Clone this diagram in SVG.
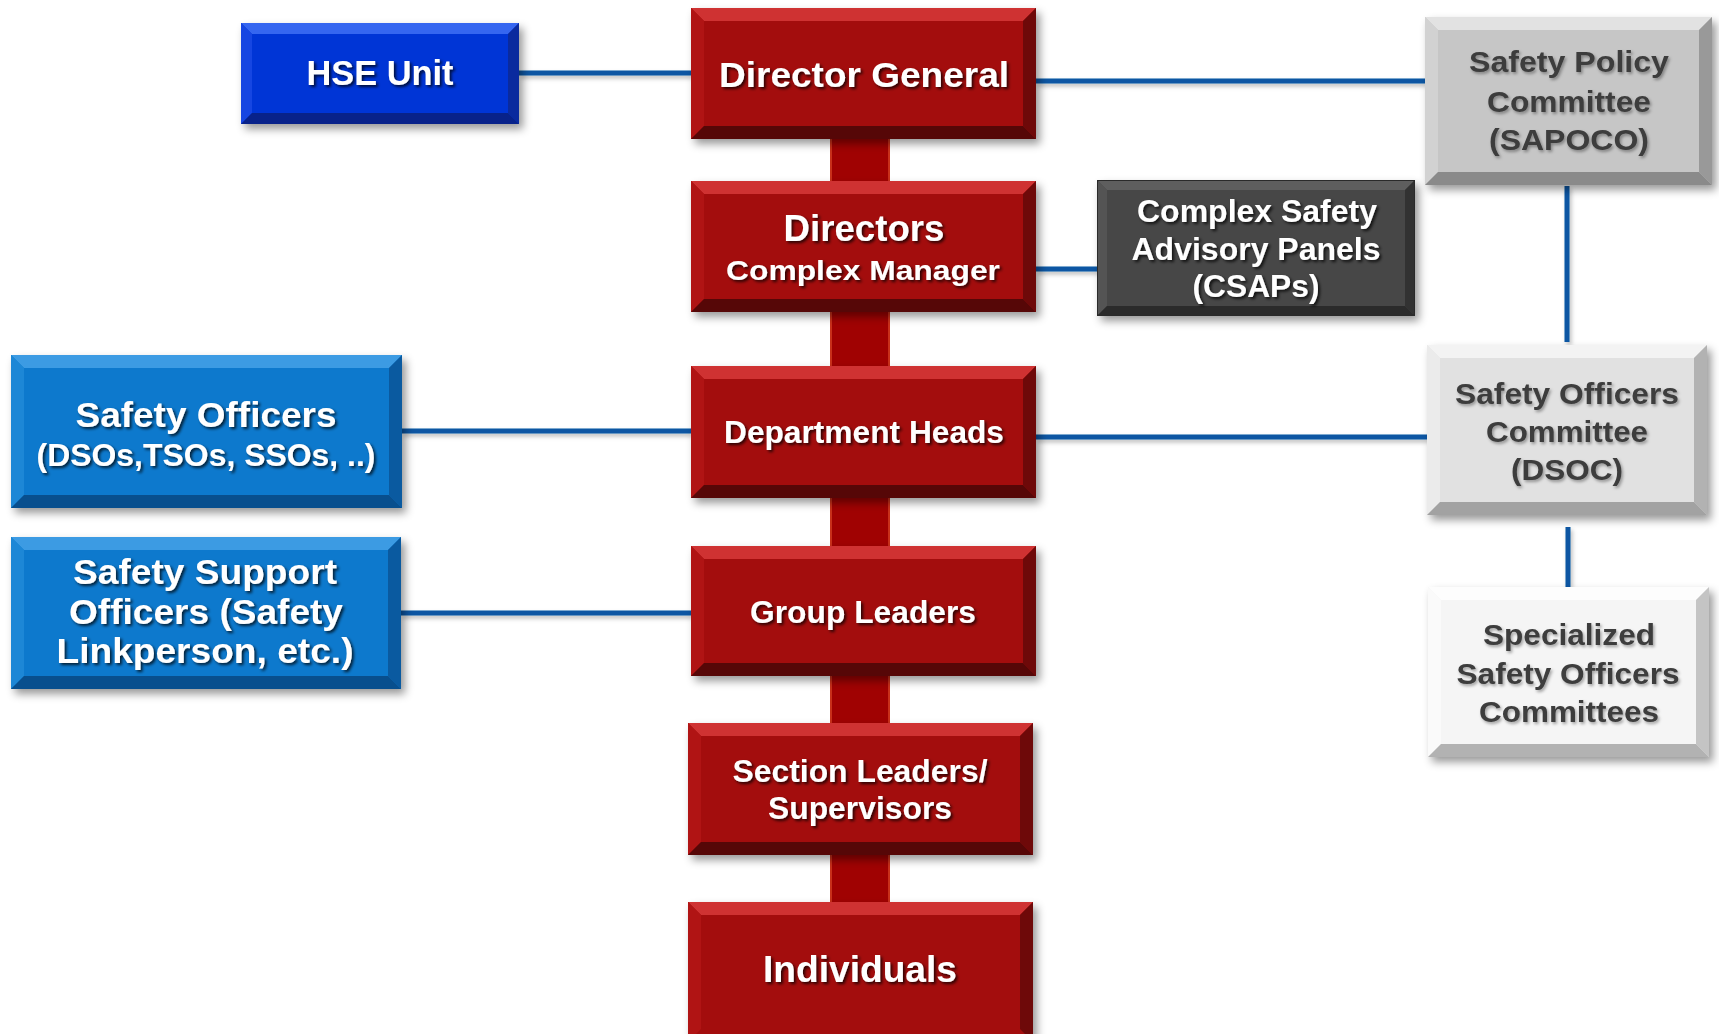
<svg xmlns="http://www.w3.org/2000/svg" width="1719" height="1034" viewBox="0 0 1719 1034">
  <defs>
    <filter id="boxShadow" x="-10%" y="-10%" width="125%" height="130%">
      <feDropShadow dx="4" dy="5" stdDeviation="4" flood-color="#000" flood-opacity="0.4"/>
    </filter>
    <filter id="lineShadow" filterUnits="userSpaceOnUse" x="0" y="0" width="1719" height="1034">
      <feDropShadow dx="2" dy="3" stdDeviation="2" flood-color="#000" flood-opacity="0.25"/>
    </filter>
    <filter id="txtDark" x="-10%" y="-30%" width="120%" height="160%">
      <feDropShadow dx="2" dy="2" stdDeviation="1.5" flood-color="#000" flood-opacity="0.75"/>
    </filter>
    <filter id="txtLight" x="-10%" y="-30%" width="120%" height="160%">
      <feDropShadow dx="1.5" dy="2" stdDeviation="1.5" flood-color="#000" flood-opacity="0.35"/>
    </filter>
  </defs>
  <style>
    text { font-family: "Liberation Sans", Arial, sans-serif; font-weight: bold; text-anchor: middle; }
    .w text { fill: #ffffff; filter: url(#txtDark); }
    .g text { fill: #3d3d3d; filter: url(#txtLight); }
    .face { filter: url(#boxShadow); }
    .red .face { fill: #a30707; }
    .red .bt { fill: #cf3232; }
    .red .bl { fill: #b01414; }
    .red .br { fill: #6e0909; }
    .red .bb { fill: #560707; }
    .hse .face { fill: #0636d6; }
    .hse .bt { fill: #3566f0; }
    .hse .bl { fill: #1646e2; }
    .hse .br { fill: #0a2a9e; }
    .hse .bb { fill: #08228a; }
    .sky .face { fill: #0a79cd; }
    .sky .bt { fill: #3c9be3; }
    .sky .bl { fill: #1d87d6; }
    .sky .br { fill: #0a5aa0; }
    .sky .bb { fill: #084f8e; }
    .dark .face { fill: #474747; stroke: #2a2a2a; stroke-width: 2; }
    .dark .bt { fill: #5e5e5e; }
    .dark .bl { fill: #545454; }
    .dark .br { fill: #323232; }
    .dark .bb { fill: #2b2b2b; }
    .mid .face { fill: #c6c6c6; }
    .mid .bt { fill: #e2e2e2; }
    .mid .bl { fill: #d2d2d2; }
    .mid .br { fill: #999999; }
    .mid .bb { fill: #8a8a8a; }
    .pale .face { fill: #e1e1e1; }
    .pale .bt { fill: #f3f3f3; }
    .pale .bl { fill: #ebebeb; }
    .pale .br { fill: #b2b2b2; }
    .pale .bb { fill: #a2a2a2; }
    .white .face { fill: #f5f5f5; }
    .white .bt { fill: #fdfdfd; }
    .white .bl { fill: #fafafa; }
    .white .br { fill: #c4c4c4; }
    .white .bb { fill: #b2b2b2; }
    .links { filter: url(#lineShadow); }
    .link { stroke: #0b57a3; stroke-width: 5; fill: none; }
    .stem { fill: #a00202; stroke: #c8301a; stroke-width: 2; }
  </style>

  <!-- connectors -->
  <g id="connectors">
    <rect class="stem" x="831" y="136" width="58" height="48"/>
    <rect class="stem" x="831" y="309" width="58" height="60"/>
    <rect class="stem" x="831" y="495" width="58" height="54"/>
    <rect class="stem" x="831" y="673" width="58" height="53"/>
    <rect class="stem" x="831" y="852" width="58" height="53"/>
    <g class="links">
      <line class="link" x1="519" y1="73" x2="691" y2="73"/>
      <line class="link" x1="1036" y1="81" x2="1425" y2="81"/>
      <line class="link" x1="1036" y1="269" x2="1098" y2="269"/>
      <line class="link" x1="1567" y1="186" x2="1567" y2="342"/>
      <line class="link" x1="402" y1="431" x2="691" y2="431"/>
      <line class="link" x1="1036" y1="437" x2="1427" y2="437"/>
      <line class="link" x1="401" y1="613" x2="691" y2="613"/>
      <line class="link" x1="1568" y1="527" x2="1568" y2="587"/>
    </g>
  </g>

  <!-- HSE unit -->
  <g id="hse-unit" class="hse w">
    <rect class="face" x="241" y="23" width="278" height="101"/>
    <polygon class="bt" points="241,23 519,23 508,34 252,34"/>
    <polygon class="bl" points="241,23 252,34 252,113 241,124"/>
    <polygon class="br" points="519,23 519,124 508,113 508,34"/>
    <polygon class="bb" points="241,124 252,113 508,113 519,124"/>
    <text x="380" y="85" font-size="35" textLength="147" lengthAdjust="spacingAndGlyphs">HSE Unit</text>
  </g>

  <!-- Director General -->
  <g id="director-general" class="red w">
    <rect class="face" x="691" y="8" width="345" height="131"/>
    <polygon class="bt" points="691,8 1036,8 1023,21 704,21"/>
    <polygon class="bl" points="691,8 704,21 704,126 691,139"/>
    <polygon class="br" points="1036,8 1036,139 1023,126 1023,21"/>
    <polygon class="bb" points="691,139 704,126 1023,126 1036,139"/>
    <text x="864" y="87" font-size="35" textLength="290" lengthAdjust="spacingAndGlyphs">Director General</text>
  </g>

  <!-- Directors / Complex Manager -->
  <g id="directors" class="red w">
    <rect class="face" x="691" y="181" width="345" height="131"/>
    <polygon class="bt" points="691,181 1036,181 1023,194 704,194"/>
    <polygon class="bl" points="691,181 704,194 704,299 691,312"/>
    <polygon class="br" points="1036,181 1036,312 1023,299 1023,194"/>
    <polygon class="bb" points="691,312 704,299 1023,299 1036,312"/>
    <text x="864" y="241" font-size="36" textLength="161" lengthAdjust="spacingAndGlyphs">Directors</text>
    <text x="863" y="280" font-size="28" textLength="274" lengthAdjust="spacingAndGlyphs">Complex Manager</text>
  </g>

  <!-- Department Heads -->
  <g id="department-heads" class="red w">
    <rect class="face" x="691" y="366" width="345" height="132"/>
    <polygon class="bt" points="691,366 1036,366 1023,379 704,379"/>
    <polygon class="bl" points="691,366 704,379 704,485 691,498"/>
    <polygon class="br" points="1036,366 1036,498 1023,485 1023,379"/>
    <polygon class="bb" points="691,498 704,485 1023,485 1036,498"/>
    <text x="864" y="443" font-size="31" textLength="280" lengthAdjust="spacingAndGlyphs">Department Heads</text>
  </g>

  <!-- Group Leaders -->
  <g id="group-leaders" class="red w">
    <rect class="face" x="691" y="546" width="345" height="130"/>
    <polygon class="bt" points="691,546 1036,546 1023,559 704,559"/>
    <polygon class="bl" points="691,546 704,559 704,663 691,676"/>
    <polygon class="br" points="1036,546 1036,676 1023,663 1023,559"/>
    <polygon class="bb" points="691,676 704,663 1023,663 1036,676"/>
    <text x="863" y="623" font-size="31" textLength="226" lengthAdjust="spacingAndGlyphs">Group Leaders</text>
  </g>

  <!-- Section Leaders / Supervisors -->
  <g id="section-leaders" class="red w">
    <rect class="face" x="688" y="723" width="345" height="132"/>
    <polygon class="bt" points="688,723 1033,723 1020,736 701,736"/>
    <polygon class="bl" points="688,723 701,736 701,842 688,855"/>
    <polygon class="br" points="1033,723 1033,855 1020,842 1020,736"/>
    <polygon class="bb" points="688,855 701,842 1020,842 1033,855"/>
    <text x="860" y="782" font-size="31" textLength="255" lengthAdjust="spacingAndGlyphs">Section Leaders/</text>
    <text x="860" y="819" font-size="31" textLength="184" lengthAdjust="spacingAndGlyphs">Supervisors</text>
  </g>

  <!-- Individuals -->
  <g id="individuals" class="red w">
    <rect class="face" x="688" y="902" width="345" height="140"/>
    <polygon class="bt" points="688,902 1033,902 1020,915 701,915"/>
    <polygon class="bl" points="688,902 701,915 701,1029 688,1042"/>
    <polygon class="br" points="1033,902 1033,1042 1020,1029 1020,915"/>
    <text x="860" y="982" font-size="37" textLength="194" lengthAdjust="spacingAndGlyphs">Individuals</text>
  </g>

  <!-- Complex Safety Advisory Panels -->
  <g id="csaps" class="dark w">
    <rect class="face" x="1098" y="181" width="316" height="134"/>
    <polygon class="bt" points="1098,181 1414,181 1405,190 1107,190"/>
    <polygon class="bl" points="1098,181 1107,190 1107,306 1098,315"/>
    <polygon class="br" points="1414,181 1414,315 1405,306 1405,190"/>
    <polygon class="bb" points="1098,315 1107,306 1405,306 1414,315"/>
    <text x="1257" y="222" font-size="32" textLength="240" lengthAdjust="spacingAndGlyphs">Complex Safety</text>
    <text x="1256" y="260" font-size="32" textLength="249" lengthAdjust="spacingAndGlyphs">Advisory Panels</text>
    <text x="1256" y="297" font-size="32" textLength="127" lengthAdjust="spacingAndGlyphs">(CSAPs)</text>
  </g>

  <!-- Safety Policy Committee -->
  <g id="sapoco" class="mid g">
    <rect class="face" x="1425" y="17" width="287" height="168"/>
    <polygon class="bt" points="1425,17 1712,17 1699,30 1438,30"/>
    <polygon class="bl" points="1425,17 1438,30 1438,172 1425,185"/>
    <polygon class="br" points="1712,17 1712,185 1699,172 1699,30"/>
    <polygon class="bb" points="1425,185 1438,172 1699,172 1712,185"/>
    <text x="1569" y="72" font-size="30" textLength="200" lengthAdjust="spacingAndGlyphs">Safety Policy</text>
    <text x="1569" y="112" font-size="30" textLength="164" lengthAdjust="spacingAndGlyphs">Committee</text>
    <text x="1569" y="150" font-size="30" textLength="160" lengthAdjust="spacingAndGlyphs">(SAPOCO)</text>
  </g>

  <!-- Safety Officers Committee -->
  <g id="dsoc" class="pale g">
    <rect class="face" x="1427" y="345" width="280" height="170"/>
    <polygon class="bt" points="1427,345 1707,345 1694,358 1440,358"/>
    <polygon class="bl" points="1427,345 1440,358 1440,502 1427,515"/>
    <polygon class="br" points="1707,345 1707,515 1694,502 1694,358"/>
    <polygon class="bb" points="1427,515 1440,502 1694,502 1707,515"/>
    <text x="1567" y="404" font-size="29" textLength="224" lengthAdjust="spacingAndGlyphs">Safety Officers</text>
    <text x="1567" y="442" font-size="29" textLength="162" lengthAdjust="spacingAndGlyphs">Committee</text>
    <text x="1567" y="480" font-size="29" textLength="112" lengthAdjust="spacingAndGlyphs">(DSOC)</text>
  </g>

  <!-- Specialized committees -->
  <g id="specialized" class="white g">
    <rect class="face" x="1428" y="587" width="281" height="170"/>
    <polygon class="bt" points="1428,587 1709,587 1696,600 1441,600"/>
    <polygon class="bl" points="1428,587 1441,600 1441,744 1428,757"/>
    <polygon class="br" points="1709,587 1709,757 1696,744 1696,600"/>
    <polygon class="bb" points="1428,757 1441,744 1696,744 1709,757"/>
    <text x="1569" y="645" font-size="29" textLength="172" lengthAdjust="spacingAndGlyphs">Specialized</text>
    <text x="1568" y="684" font-size="29" textLength="223" lengthAdjust="spacingAndGlyphs">Safety Officers</text>
    <text x="1569" y="722" font-size="29" textLength="180" lengthAdjust="spacingAndGlyphs">Committees</text>
  </g>

  <!-- Safety Officers -->
  <g id="safety-officers" class="sky w">
    <rect class="face" x="11" y="355" width="391" height="153"/>
    <polygon class="bt" points="11,355 402,355 389,368 24,368"/>
    <polygon class="bl" points="11,355 24,368 24,495 11,508"/>
    <polygon class="br" points="402,355 402,508 389,495 389,368"/>
    <polygon class="bb" points="11,508 24,495 389,495 402,508"/>
    <text x="206" y="427" font-size="35" textLength="261" lengthAdjust="spacingAndGlyphs">Safety Officers</text>
    <text x="206" y="466" font-size="31" textLength="339" lengthAdjust="spacingAndGlyphs">(DSOs,TSOs, SSOs, ..)</text>
  </g>

  <!-- Safety Support Officers -->
  <g id="safety-support" class="sky w">
    <rect class="face" x="11" y="537" width="390" height="152"/>
    <polygon class="bt" points="11,537 401,537 388,550 24,550"/>
    <polygon class="bl" points="11,537 24,550 24,676 11,689"/>
    <polygon class="br" points="401,537 401,689 388,676 388,550"/>
    <polygon class="bb" points="11,689 24,676 388,676 401,689"/>
    <text x="205" y="584" font-size="35" textLength="264" lengthAdjust="spacingAndGlyphs">Safety Support</text>
    <text x="206" y="624" font-size="35" textLength="274" lengthAdjust="spacingAndGlyphs">Officers (Safety</text>
    <text x="205" y="663" font-size="35" textLength="297" lengthAdjust="spacingAndGlyphs">Linkperson, etc.)</text>
  </g>
</svg>
